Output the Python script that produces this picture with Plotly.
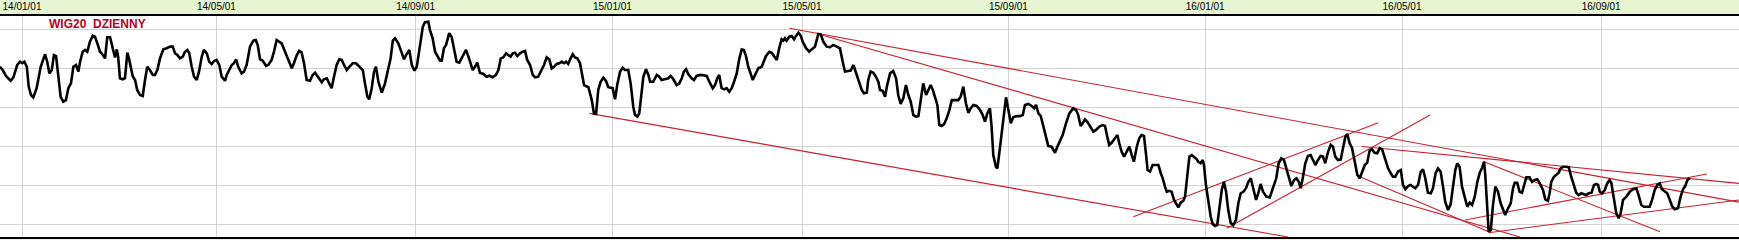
import plotly.graph_objects as go

# --- trading-session index (x) and WIG20 level (y) ---
sesje = [
 -9.2, -8.0, -6.7, -4.7, -3.6, -2.0, -0.8, 0.1, 1.0, 2.0,
 2.8, 3.75, 4.7, 6.1, 7.8, 9.6, 10.5, 11.4, 12.4, 13.3,
 14.2, 15.1, 16.1, 17.2, 18.3, 19.3, 20.4, 21.4, 22.5, 23.5,
 24.2, 25.3, 26.25, 27.2, 28.3, 29.5, 30.4, 31.4, 32.5, 33.2,
 34.6, 35.5, 36.7, 37.8, 38.75, 39.5, 40.1, 40.8, 42.0, 42.9,
 43.9, 44.7, 46.1, 47.1, 48.0, 49.2, 50.3, 51.25, 52.2, 53.3,
 54.5, 55.4, 56.4, 57.5, 58.9, 60.3, 61.7, 62.8, 63.75, 64.7,
 65.8, 67.0, 67.9, 68.9, 69.7, 70.7, 71.7, 72.8, 73.75, 74.9,
 75.8, 77.0, 78.0, 79.0, 80.0, 81.1, 82.2, 83.2, 84.6,
 85.3, 87.4, 88.3, 89.2, 90.1, 91.5, 92.5, 93.6, 95.0, 96.4,
 97.4, 98.2, 99.2, 100.3, 101.7, 102.6, 104.0, 105.0, 106.1, 107.2,
 108.2, 109.6, 111.0, 112.4, 113.3, 114.5, 115.5, 116.5, 117.5, 118.6,
 120.0, 121.1, 122.1, 123.5, 124.9, 125.8, 127.0, 128.0, 129.0, 130.0,
 131.1, 132.2, 133.2, 134.2, 135.3, 136.4, 137.8, 139.2, 140.5, 142.0,
 142.9, 143.9, 144.7, 145.7, 146.7, 147.5, 148.5, 149.9, 151.25, 152.6,
 153.6, 154.5, 155.4, 156.8, 158.2, 159.2, 160.0, 161.4, 162.4, 163.5,
 164.5, 165.8, 167.0, 167.9, 169.3, 170.0, 171.1, 172.1, 173.0, 174.2,
 174.9, 175.8,
 176.7, 178.0, 179.0, 180.0, 181.1, 182.2, 183.6, 185.0, 186.4, 187.8,
 188.75, 189.7, 190.8, 192.2, 193.6, 194.7, 196.1, 197.5, 198.5, 199.5,
 200.5, 201.7, 202.6, 203.6, 204.5, 205.4, 206.4, 207.5, 208.6, 209.6,
 210.5, 211.7, 212.8, 213.75, 215.1, 216.5, 217.5, 218.6, 219.7, 220.7,
 221.7, 222.8, 223.9, 224.9, 225.8, 226.7, 227.6, 228.6, 229.5, 230.4,
 231.4, 232.5,
 233.2, 234.2, 236.0, 237.4, 238.3, 239.2, 240.1, 241.1, 242.2, 243.3,
 244.3, 246.1, 247.1, 248.0, 249.2, 250.3, 251.25, 252.6, 253.6, 254.7,
 255.4, 256.4, 257.2, 258.2, 258.9, 260.0, 261.0, 261.7, 263.0, 264.5,
 265.5, 266.5, 267.9, 269.3, 270.3, 271.4, 272.8, 273.9, 274.9, 275.8,
 276.7, 277.6, 279.0, 280.0, 281.1, 282.5, 283.9, 285.3, 286.4, 287.8,
 288.75, 289.7, 290.5, 291.5, 292.6, 293.6, 294.7, 295.7, 296.7, 297.8,
 298.9, 299.9, 300.8, 301.7, 302.6, 303.6, 304.5, 305.4, 306.8, 308.2,
 309.2, 310.0, 311.4, 312.4, 313.3, 314.5, 315.5, 316.5, 317.2, 317.9,
 318.6, 319.7, 320.7, 321.7, 322.5, 323.5, 324.5, 325.3,
 326.7, 328.0, 329.0, 330.4, 331.8, 332.8, 333.9, 335.3, 336.7, 338.0,
 339.5, 340.8, 341.96, 342.9, 344.3, 345.3, 346.4, 347.5, 348.5, 349.9,
 350.8, 352.0, 352.6, 353.6, 354.7, 355.8, 356.8, 357.5, 358.6, 359.6,
 360.5, 361.7, 363.0, 364.2, 365.1, 366.1, 367.2, 368.3, 369.3, 370.3,
 371.4, 372.5, 373.5, 374.5, 375.5, 376.7, 377.6, 378.6, 379.5, 380.4,
 381.4, 382.2, 383.2, 384.2, 385.3, 386.4, 387.4, 388.75, 390.1, 391.1,
 392.2, 393.3, 394.3, 395.3, 396.4, 397.8, 399.2, 400.3, 401.25, 402.2,
 403.3, 404.0, 404.7, 405.8, 406.4, 407.2, 408.2, 409.2, 410.0, 411.0,
 412.0, 413.0, 414.5, 415.8, 417.0, 417.9, 419.3, 420.7, 421.7, 422.5,
 423.5, 424.5, 425.5, 426.7, 427.6, 429.0, 430.4, 431.4, 432.5, 433.6,
 435.0, 436.4, 438.0, 439.2, 440.1, 441.1, 441.96, 442.9, 443.9, 445.0,
 446.4, 447.5, 448.9, 450.3, 451.25, 452.2, 453.0, 454.0, 455.4, 456.4,
 457.2, 458.2, 459.2, 460.3, 461.4, 462.4, 463.3, 464.5, 465.5, 466.5,
 467.5, 468.3, 469.0, 470.0, 471.1, 472.5, 473.5, 474.5, 475.3, 476.25,
 477.0, 478.0, 479.0, 480.0, 481.1, 481.8, 482.8, 483.9, 484.6, 485.3,
 486.4, 487.4, 488.3, 489.5, 490.1, 491.1, 491.96, 492.5, 493.3, 494.3,
 495.3, 496.1, 497.1, 498.0, 498.9, 499.9, 500.8, 501.7, 502.6, 503.6,
 504.7, 505.8, 506.8, 507.8, 508.9, 510.0, 511.0, 512.0, 513.0, 514.2,
 515.1, 515.8,
 516.1, 517.1, 518.5, 519.9, 520.8, 521.7, 522.6, 523.6, 524.7, 525.8,
 526.8, 527.8, 528.9, 530.0, 531.0, 532.0, 532.8, 533.75, 534.7, 535.8,
 536.96, 537.9, 538.9, 540.0, 541.1, 542.1, 543.0, 544.2, 545.3, 546.25,
 547.2, 548.3, 549.5, 550.4, 551.4, 552.2, 553.2, 554.2, 555.3, 556.4,
 557.4, 558.3, 559.5, 560.5, 561.5, 562.5, 563.6, 564.7, 565.7, 566.7,
 567.8, 569.2, 570.3, 571.25, 572.2, 573.3, 574.5, 575.4, 576.4, 577.5,
 578.6, 579.6, 580.5, 581.7, 582.8, 583.75, 584.7, 585.8, 587.0, 587.9,
 589.0, 590.0, 591.1, 592.1, 593.0, 594.2, 595.3, 596.25, 597.2, 598.0,
 599.0, 600.0, 601.1, 602.2, 603.2, 604.2, 605.3, 606.4, 607.4, 608.3,
 609.2, 609.7, 610.5, 611.1, 612.0, 612.9, 613.9, 615.0,
 616.1, 617.1, 618.0, 619.2, 620.3, 621.25, 621.96, 623.0, 624.0, 625.0,
 625.8, 626.8, 628.2, 629.2, 630.3, 631.4, 632.4, 633.75, 634.7, 635.8,
 636.5, 637.2, 638.3, 639.3, 640.3, 641.1, 642.1, 643.5, 644.5, 645.5,
 646.7, 647.6, 648.6, 649.7, 650.8, 651.8, 652.8, 654.0, 655.0, 656.0,
 656.7, 657.4, 658.3, 659.5, 660.5, 661.5, 662.2, 662.9, 663.6, 664.3,
 665.3, 666.1, 667.1, 668.5, 669.9, 671.25, 672.6, 673.6, 674.7, 675.8,
 677.2, 678.2, 679.2, 680.3, 681.4, 682.4, 683.3, 684.5, 685.5, 686.5,
 687.5, 688.6, 690.0, 691.1, 692.1, 693.0, 693.9, 694.9,
]

wig20 = [
 2408, 2391, 2361, 2336, 2354, 2417, 2434, 2426, 2434, 2408,
 2306, 2263, 2251, 2298, 2408, 2472, 2434, 2374, 2391, 2468,
 2463, 2357, 2254, 2229, 2237, 2298, 2323, 2408, 2417, 2383,
 2434, 2485, 2494, 2485, 2536, 2567, 2562, 2528, 2485, 2477,
 2451, 2559, 2559, 2503, 2456, 2497, 2456, 2349, 2344, 2349,
 2480, 2443, 2361, 2340, 2289, 2263, 2258, 2340, 2408, 2391,
 2366, 2366, 2391, 2451, 2497, 2503, 2511, 2511, 2477, 2468,
 2451, 2460, 2485, 2494, 2477, 2408, 2357, 2340, 2383, 2460,
 2494, 2477, 2434, 2422, 2437, 2443, 2417, 2357, 2336,
 2366, 2417, 2426, 2446, 2408, 2374, 2383, 2417, 2511, 2542,
 2545, 2520, 2446, 2439, 2412, 2417, 2443, 2485, 2545, 2536,
 2528, 2485, 2443, 2400, 2426, 2468, 2490, 2482, 2426, 2340,
 2336, 2366, 2377, 2349, 2328, 2344, 2349, 2323, 2298, 2357,
 2417, 2446, 2443, 2417, 2391, 2408, 2426, 2426, 2412, 2391,
 2323, 2254, 2241, 2298, 2383, 2408, 2331, 2275, 2323, 2391,
 2451, 2542, 2554, 2528, 2477, 2446, 2468, 2494, 2417, 2388,
 2408, 2511, 2613, 2636, 2639, 2596, 2554, 2485, 2468, 2439,
 2439, 2503,
 2520, 2580, 2562, 2494, 2434, 2429, 2460, 2494, 2446, 2391,
 2408, 2429, 2377, 2371, 2357, 2362, 2354, 2366, 2391, 2451,
 2456, 2477, 2468, 2460, 2477, 2480, 2463, 2477, 2485, 2489,
 2443, 2417, 2366, 2354, 2357, 2391, 2417, 2456, 2446, 2400,
 2408, 2422, 2426, 2434, 2426, 2434, 2422, 2451, 2472, 2456,
 2451, 2426,
 2383, 2314, 2303, 2237, 2169, 2166, 2289, 2331, 2352, 2336,
 2303, 2298, 2241, 2314, 2383, 2403, 2391, 2391, 2323, 2203,
 2161, 2152, 2169, 2272, 2357, 2395, 2366, 2331, 2331, 2366,
 2357, 2340, 2344, 2349, 2361, 2344, 2314, 2323, 2349, 2383,
 2395, 2371, 2349, 2340, 2361, 2366, 2364, 2361, 2331, 2298,
 2314, 2349, 2366, 2298, 2292, 2298, 2280, 2298, 2331, 2374,
 2451, 2497, 2494, 2460, 2408, 2366, 2340, 2366, 2400, 2408,
 2434, 2463, 2485, 2480, 2463, 2443, 2503, 2549, 2542, 2554,
 2542, 2562, 2566, 2549, 2566, 2583, 2566, 2536,
 2503, 2485, 2497, 2511, 2576, 2574, 2536, 2511, 2508, 2520,
 2511, 2503, 2434, 2383, 2386, 2388, 2417, 2374, 2340, 2289,
 2272, 2275, 2340, 2383, 2377, 2357, 2331, 2289, 2285, 2254,
 2314, 2374, 2386, 2349, 2263, 2217, 2246, 2314, 2263, 2229,
 2160, 2152, 2155, 2237, 2323, 2263, 2289, 2314, 2289, 2254,
 2212, 2109, 2104, 2114, 2144, 2186, 2237, 2237, 2237, 2254,
 2306, 2221, 2172, 2195, 2212, 2207, 2186, 2160, 2126, 2169,
 2195, 2101, 1955, 1895, 1887, 1964, 2067, 2186, 2251, 2186,
 2118, 2149, 2155, 2155, 2160, 2212, 2217, 2207, 2195, 2212,
 2169, 2155, 2101, 2049, 2002, 1998, 1967, 1998, 2032, 2058,
 2118, 2169, 2195, 2186, 2160, 2104, 2118, 2138, 2126, 2104,
 2075, 2084, 2101, 2109, 2104, 2049, 2007, 2018, 2041, 2058,
 2015, 1972, 1947, 1972, 1998, 1955, 1921, 1998, 2041, 2058,
 2053, 1964, 1878, 1870, 1904, 1904, 1904, 1862, 1836, 1793,
 1767, 1772, 1767, 1725, 1704, 1687, 1711, 1721, 1742, 1827,
 1947, 1955, 1947, 1933, 1921, 1913, 1930, 1904, 1802, 1708,
 1639, 1602, 1591, 1596, 1673, 1776, 1818, 1767, 1673, 1608,
 1596, 1622, 1708, 1759, 1767, 1785, 1818, 1836, 1785, 1725,
 1759, 1802,
 1807, 1767, 1742, 1738, 1772, 1813, 1836, 1913, 1938, 1930,
 1887, 1836, 1796, 1827, 1836, 1818, 1785, 1844, 1913, 1950,
 1955, 1930, 1904, 1930, 1950, 1947, 1913, 1972, 2007, 1998,
 1947, 1930, 1933, 1990, 2049, 2063, 2015, 1990, 1913, 1853,
 1836, 1865, 1904, 1916, 1977, 1985, 1967, 1964, 1990, 1985,
 1938, 1887, 1862, 1844, 1844, 1870, 1878, 1802, 1780, 1796,
 1802, 1793, 1785, 1802, 1870, 1882, 1836, 1762, 1759, 1785,
 1862, 1887, 1870, 1793, 1716, 1673, 1704, 1793, 1878, 1913,
 1895, 1793, 1733, 1690, 1711, 1699, 1742, 1818, 1865, 1887,
 1921, 1853, 1690, 1562, 1571, 1699, 1793, 1767,
 1708, 1677, 1648, 1682, 1708, 1785, 1813, 1813, 1767, 1762,
 1802, 1841, 1841, 1818, 1827, 1831, 1810, 1776, 1728, 1721,
 1759, 1818, 1844, 1853, 1865, 1887, 1895, 1895, 1892, 1844,
 1793, 1762, 1750, 1759, 1754, 1750, 1759, 1762, 1802, 1807,
 1802, 1767, 1759, 1776, 1810, 1827, 1813, 1759, 1708, 1656,
 1631, 1656, 1725, 1742, 1767, 1780, 1785, 1750, 1699, 1690,
 1690, 1690, 1725, 1776, 1802, 1810, 1780, 1767, 1759, 1728,
 1694, 1677, 1682, 1742, 1780, 1796, 1827, 1836,
]
assert len(sesje) == len(wig20), (len(sesje), len(wig20))

# month-start ticks (session index) and their labels
tick_sesje = [0, 81, 164, 246, 325, 411, 493, 575, 658]
tick_etykiety = ["14/01/01", "14/05/01", "14/09/01", "15/01/01", "15/05/01",
                 "15/09/01", "16/01/01", "16/05/01", "16/09/01"]
poziomy_siatki = [1600, 1800, 2000, 2200, 2400, 2600]

# trend lines: start/end (session, level)
linie_start_s = [236.4, 319.7, 331.8, 463.05, 502.0, 558.2, 557.5, 609.2, 601.25, 611.1]
linie_start_v = [2169, 2605, 2576, 1639, 1580, 1999, 1844, 1921, 1622, 1557]
linie_koniec_s = [527.5, 715.4, 624.2, 565.1, 586.7, 715.4, 611.1, 682.5, 702.0, 715.4]
linie_koniec_v = [1535, 1714, 1535, 2121, 2161, 1810, 1562, 1562, 1858, 1725]

tytul = "WIG20  DZIENNY"

fig = go.Figure()

lx, ly = [], []
for a, b, c, d in zip(linie_start_s, linie_start_v, linie_koniec_s, linie_koniec_v):
    lx += [a, c, None]
    ly += [b, d, None]
fig.add_trace(go.Scatter(x=lx, y=ly, mode="lines",
                         line=dict(color="#cc2030", width=1.1),
                         hoverinfo="skip"))

fig.add_trace(go.Scatter(x=sesje, y=wig20, mode="lines",
                         line=dict(color="black", width=2.6),
                         hoverinfo="skip"))

fig.add_annotation(text="<b>" + tytul + "</b>", xref="paper", yref="paper",
                   x=47 / 1739, y=(237 - 24.5) / 221, xanchor="left", yanchor="middle",
                   showarrow=False,
                   font=dict(family="Liberation Sans, Arial", size=12, color="#c0001c"))

fig.update_layout(
    width=1739, height=240,
    margin=dict(l=0, r=0, t=16, b=3, pad=0),
    paper_bgcolor="#e6f5cf",
    plot_bgcolor="white",
    showlegend=False,
    xaxis=dict(range=[-9.1667, 715.4167], tickmode="array",
               tickvals=tick_sesje, ticktext=tick_etykiety,
               side="top", showgrid=True, gridcolor="#d4d4d4", gridwidth=1,
               zeroline=False, showline=True, linecolor="black", linewidth=2,
               mirror=True, ticks="", automargin=False,
               tickfont=dict(family="Liberation Sans, Arial", size=10, color="black")),
    yaxis=dict(range=[1535, 2668.2], tickmode="array", tickvals=poziomy_siatki,
               showticklabels=False, showgrid=True, gridcolor="#d4d4d4", gridwidth=1,
               zeroline=False, showline=False, automargin=False),
)

fig.write_html("out.html", config={"displayModeBar": False})
